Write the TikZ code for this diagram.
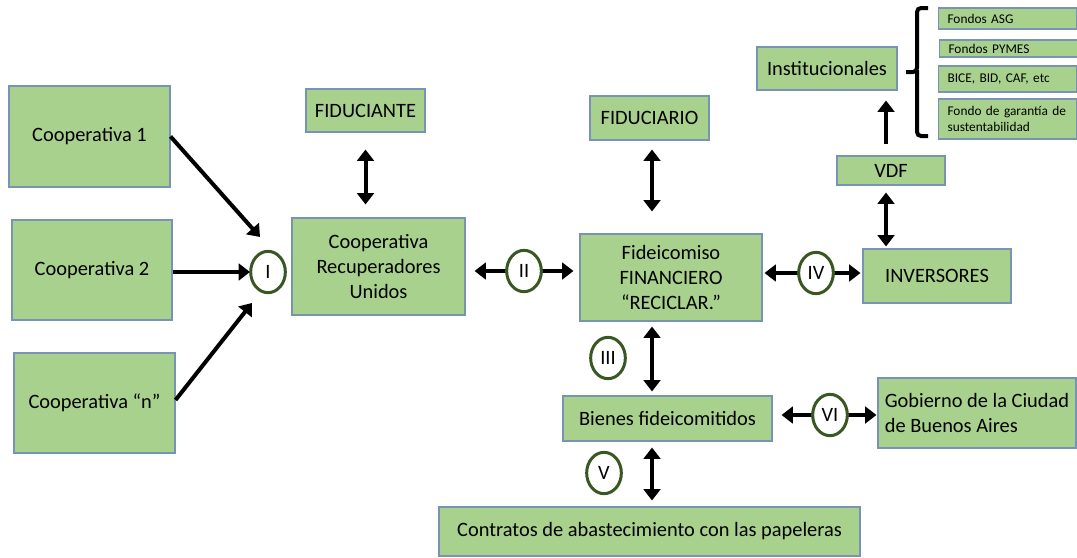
\documentclass[tikz,border=0pt]{standalone}
\usepackage{fontspec}
\setmainfont{Carlito}
\usepackage{tikz}
\usetikzlibrary{arrows.meta,calc,shapes.geometric}
\definecolor{verdecaja}{RGB}{169,209,142}
\definecolor{bordecaja}{RGB}{120,148,180}
\definecolor{verdecirc}{RGB}{56,87,35}
\tikzset{
  caja/.style={draw=bordecaja, fill=verdecaja, line width=0.8pt, align=center,
    inner sep=0pt, font=\fontsize{15.3}{18.4}\selectfont},
  tam/.style 2 args={minimum width=#1*0.75pt, minimum height=#2*0.75pt},
  cajita/.style={draw=bordecaja, fill=verdecaja, line width=0.8pt, anchor=west,
    align=left, inner xsep=6.75pt, inner ysep=0pt, text width=90pt,
    font=\fontsize{10}{12.5}\selectfont},
  etapa/.style={ellipse, draw=verdecirc, fill=white, line width=2.25pt,
    minimum width=26pt, minimum height=31pt, inner sep=0pt,
    font=\fontsize{15.3}{18}\selectfont},
  flecha/.style={line width=3pt, -{Triangle[length=8.5pt,width=12.5pt]}},
  doble/.style={line width=3pt, {Triangle[length=8.5pt,width=12.5pt]}-{Triangle[length=8.5pt,width=12.5pt]}},
}

\begin{document}
\begin{tikzpicture}[x=0.75pt,y=-0.75pt]
    \useasboundingbox (0,0) rectangle (1077,557);

    % Cajas
    \node[caja, tam={161}{101}] (coop1) at (89.5,136.5) {Cooperativa 1};
    \node[caja, tam={160}{100}] (coop2) at (92,270) {Cooperativa 2};
    \node[caja, tam={161}{100}] (coopn) at (94.5,403) {Cooperativa “n”};
    \node[caja, tam={119}{43}] (fiduciante) at (365.5,110.5) {FIDUCIANTE};
    \node[caja, tam={173}{97}] (cru) at (378.5,266.5) {Cooperativa\\Recuperadores\\Unidos};
    \node[caja, tam={119}{44}] (fiduciario) at (649.5,118) {FIDUCIARIO};
    \node[caja, tam={182}{87}] (fid) at (671,277.5) {Fideicomiso\\FINANCIERO\\“RECICLAR.”};
    \node[caja, tam={148}{54}] (inv) at (937,276) {INVERSORES};
    \node[caja, tam={108}{29}] (vdf) at (891,170.5) {VDF};
    \node[caja, tam={140}{43}] (inst) at (827,68.5) {Institucionales};
    \node[caja, tam={209}{45}] (bienes) at (667.5,418.5) {Bienes fideicomitidos};
    \node[caja, tam={198}{70}, align=left] (gob) at (977,413) {Gobierno de la Ciudad\\de Buenos Aires};
    \node[caja, tam={421}{49}] (contratos) at (649.5,531.5) {Contratos de abastecimiento con las papeleras};

    % Fondos
    \node[cajita, tam={138}{21}] (fasg) at (938,18.5) {Fondos ASG};
    \node[cajita, tam={138}{17}] (fpymes) at (939,48.5) {Fondos PYMES};
    \node[cajita, tam={138}{26}] (bice) at (938,79) {BICE, BID, CAF, etc};
    \node[cajita, tam={138}{40}] (fgar) at (938,119) {Fondo de garantía de\\sustentabilidad};
    \draw[line width=3pt, rounded corners=3pt] (928,8) -- (917,8) -- (917,72) -- (906,72);
    \draw[line width=3pt, rounded corners=3pt] (917,70) -- (917,136) -- (928,136);

    % Puntos
    \coordinate (p1) at (260,237);
    \coordinate (p3) at (252,303);
    \coordinate (cI) at (268,272);
    \coordinate (cII) at (524,271);
    \coordinate (cIV) at (816,273);
    \coordinate (cVI) at (830,415);
    \coordinate (ejeF) at (652,0);
    \coordinate (ejeV) at (886,0);

    % Flechas
    \draw[flecha] (coop1.east) -- (p1);
    \draw[flecha] (cI -| coop2.east) -- ([xshift=-13.5pt]cI);
    \draw[flecha] ([yshift=2.25pt]coopn.east) -- (p3);
    \draw[doble, shorten <=12.75pt, shorten >=9.75pt] (fiduciante.south) -- (fiduciante.south |- cru.north);
    \draw[doble, shorten <=6.75pt, shorten >=4.5pt] (cII -| cru.east) -- (cII -| fid.west);
    \draw[doble, shorten <=6.75pt, shorten >=16.5pt] (ejeF |- fiduciario.south) -- (ejeF |- fid.north);
    \draw[doble, shorten <=1.5pt, shorten >=1.5pt] (cIV -| fid.east) -- (cIV -| inv.west);
    \draw[doble, shorten <=5.25pt, shorten >=1.5pt] (ejeV |- vdf.south) -- (ejeV |- inv.north);
    \draw[flecha, shorten <=8.25pt, shorten >=7.5pt] (ejeV |- vdf.north) -- (ejeV |- inst.south);
    \draw[doble, shorten <=3.75pt, shorten >=3pt] (ejeF |- fid.south) -- (ejeF |- bienes.north);
    \draw[doble, shorten <=6.75pt, shorten >=0.75pt] (cVI -| bienes.east) -- (cVI -| gob.west);
    \draw[doble, shorten <=4.5pt, shorten >=4.5pt] (ejeF |- bienes.south) -- (ejeF |- contratos.north);

    % Etapas
    \node[etapa] (eI) at (cI) {I};
    \node[etapa] (eII) at (cII) {II};
    \node[etapa] (eIII) at (608,358) {III};
    \node[etapa] (eIV) at (cIV) {IV};
    \node[etapa] (eV) at (604,473) {V};
    \node[etapa] (eVI) at (cVI) {VI};
\end{tikzpicture}
\end{document}
